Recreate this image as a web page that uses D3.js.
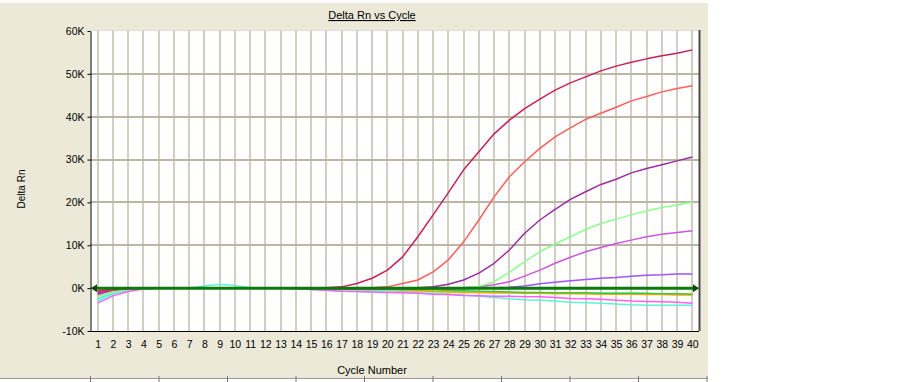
<!DOCTYPE html>
<html><head><meta charset="utf-8">
<script src="https://cdn.jsdelivr.net/npm/d3@7/dist/d3.min.js"></script>
<style>
html,body{margin:0;padding:0;background:#fff;}
svg{display:block;font-family:"Liberation Sans",Arial,sans-serif;}
</style></head>
<body>
<svg id="chart" width="902" height="382"></svg>
<script>
// ---- data (Delta Rn, in units) ----
const cycles = [1,2,3,4,5,6,7,8,9,10,11,12,13,14,15,16,17,18,19,20,21,22,23,24,25,26,27,28,29,30,31,32,33,34,35,36,37,38,39,40];
const yTicks = [-10000,0,10000,20000,30000,40000,50000,60000];
const yTickLabels = ["-10K","0K","10K","20K","30K","40K","50K","60K"];
const threshold = 0;

// values in K
const sAqua   = [-3.0,-1.4,-0.5,-0.1,0,0,0,0.5,0.9,0.6,0.1,0,0,-0.2,-0.3,-0.5,-0.7,-0.8,-0.9,-0.9,-1.0,-1.1,-1.2,-1.4,-1.6,-1.9,-2.2,-2.5,-2.7,-2.8,-3.0,-3.3,-3.4,-3.5,-3.7,-3.9,-4.0,-4.0,-4.0,-4.0];
const sPink   = [-3.5,-1.8,-0.8,-0.2,0,0,0,0,0,0,0,0,0,-0.1,-0.3,-0.5,-0.7,-0.8,-0.9,-1.0,-1.1,-1.2,-1.4,-1.5,-1.7,-1.8,-1.9,-1.9,-2.0,-2.0,-2.2,-2.4,-2.5,-2.6,-2.8,-3.0,-3.1,-3.2,-3.3,-3.5];
const sCyan   = [-2.5,-1.1,-0.4,0,0,0,0,0,0,0,0,0,0,0,-0.1,-0.2,-0.3,-0.4,-0.5,-0.6,-0.7,-0.7,-0.8,-0.8,-0.9,-0.9,-1.0,-1.0,-1.1,-1.1,-1.1,-1.2,-1.2,-1.2,-1.2,-1.2,-1.3,-1.3,-1.4,-1.4];
const sYellow = [-1.9,-0.9,-0.3,0,0,0,0,0,0,0,0,0,0,0,0,-0.1,-0.1,-0.2,-0.3,-0.4,-0.5,-0.6,-0.8,-0.9,-1.0,-1.0,-1.1,-1.1,-1.2,-1.2,-1.2,-1.2,-1.3,-1.3,-1.3,-1.3,-1.3,-1.3,-1.3,-1.3];
const sOrange = [-1.6,-0.7,-0.2,0,0,0,0,0,0,0,0,0,0,0,0,-0.2,-0.3,-0.3,-0.3,-0.3,-0.5,-0.6,-0.8,-0.9,-1.0,-1.0,-1.1,-1.1,-1.2,-1.2,-1.3,-1.3,-1.3,-1.4,-1.4,-1.4,-1.5,-1.5,-1.6,-1.6];
const sGreen  = [-1.3,-0.5,-0.1,0,0,0,0,0,0,0,0,0,0,0,0,-0.1,-0.1,-0.1,-0.1,-0.1,-0.2,-0.3,-0.4,-0.5,-0.6,-0.7,-0.8,-0.9,-1.0,-1.0,-1.1,-1.1,-1.1,-1.2,-1.2,-1.2,-1.2,-1.3,-1.3,-1.4];
const sViolet = [-1.0,-0.4,-0.1,0,0,0,0,0,0,0,0,0,0,-0.1,-0.2,-0.2,-0.2,-0.2,-0.2,-0.2,-0.2,-0.1,-0.1,-0.1,-0.1,0,0.1,0.2,0.5,1.0,1.4,1.7,2.0,2.3,2.5,2.8,3.0,3.1,3.3,3.3];
const sOrchid = [-1.5,-0.6,-0.2,0,0,0,0,0,0,0,0,0,0,0,0,0,0,0,0,0,0,0,0,0,0.1,0.3,0.8,1.5,2.8,4.2,5.8,7.2,8.5,9.5,10.4,11.2,12.0,12.6,13.0,13.4];
const sLime   = [-2.0,-0.8,-0.2,0,0,0,0,0,0,0,0,0,0,0,0,0,0,0,0,0,0,0,0,0,0.1,0.4,1.5,3.7,6.2,8.5,10.3,12.0,13.7,15.1,16.1,17.1,18.0,18.8,19.4,20.1];
const sPurple = [-1.2,-0.5,-0.1,0,0,0,0,0,0,0,0,0,0,0,0,0,0,0,0,0,0,0.1,0.3,0.9,1.9,3.5,5.8,8.9,12.8,15.9,18.4,20.7,22.5,24.2,25.4,26.9,27.9,28.8,29.7,30.6];
const sSalmon = [-0.8,-0.4,-0.1,0,0,0,0,0,0,0,0,0,0,0,0,0,0,0,0.1,0.3,1.1,1.9,3.8,6.6,10.8,15.9,21.3,26.0,29.5,32.6,35.3,37.4,39.4,40.8,42.2,43.7,44.7,45.8,46.6,47.2];
const sCrimson= [-0.6,-0.3,-0.1,0,0,0,0,0,0,0,0,0,0,0,0,0.1,0.3,1.1,2.3,4.2,7.3,12.0,17.1,22.3,27.6,31.8,36.0,39.2,41.9,44.1,46.2,47.9,49.3,50.7,51.8,52.7,53.5,54.2,54.8,55.6];

const seriesList = [
  {name:"aqua",   values:sAqua,   color:"#5CF5CF"},
  {name:"pink",   values:sPink,   color:"#FF5CFF"},
  {name:"cyan",   values:sCyan,   color:"#33F0F0"},
  {name:"yellow", values:sYellow, color:"#FFD27A"},
  {name:"orange", values:sOrange, color:"#FFA600"},
  {name:"green",  values:sGreen,  color:"#3CC83C"},
  {name:"violet", values:sViolet, color:"#9A55FF"},
  {name:"orchid", values:sOrchid, color:"#CC55DD"},
  {name:"lime",   values:sLime,   color:"#8CFF8C"},
  {name:"purple", values:sPurple, color:"#9A2D9F"},
  {name:"salmon", values:sSalmon, color:"#FF5C5C"},
  {name:"crimson",values:sCrimson,color:"#C81F5A"}
];

(function(){
const svg = d3.select("#chart");
const beige = "#ECE9D8";

// panel
svg.append("rect").attr("x",0).attr("y",3).attr("width",708).attr("height",375).attr("fill",beige);

const x = d3.scaleLinear().domain([0.5, 40.5]).range([90, 700]);
const y = d3.scaleLinear().domain([-10000, 60000]).range([331, 31]);
const pL = 90, pR = 699, pT = 30, pB = 331;

// plot background
svg.append("rect").attr("x",pL).attr("y",pT).attr("width",pR-pL).attr("height",pB-pT).attr("fill","#fff");
svg.append("line").attr("x1",pL).attr("x2",pR).attr("y1",pT+0.5).attr("y2",pT+0.5).attr("stroke","#ddd").attr("stroke-width",1);

// vertical grid
svg.append("g").selectAll("line").data(cycles).join("line")
  .attr("x1",d=>Math.round(x(d))).attr("x2",d=>Math.round(x(d)))
  .attr("y1",pT).attr("y2",pB)
  .attr("stroke","#D2CEC2").attr("stroke-width",2);
// horizontal grid
svg.append("g").selectAll("line").data(yTicks.filter(v=>v>-10000 && v<60000)).join("line")
  .attr("x1",pL).attr("x2",pR)
  .attr("y1",d=>Math.round(y(d))).attr("y2",d=>Math.round(y(d)))
  .attr("stroke","#BDB6A4").attr("stroke-width",2);

// series
const line = d3.line().x((d,i)=>x(cycles[i])).y(d=>y(d*1000));
svg.append("clipPath").attr("id","clip").append("rect")
  .attr("x",pL).attr("y",pT).attr("width",pR-pL).attr("height",pB-pT);
svg.append("g").attr("clip-path","url(#clip)").selectAll("path").data(seriesList).join("path")
  .attr("d",d=>line(d.values)).attr("fill","none")
  .attr("stroke",d=>d.color).attr("stroke-width",1.5).attr("stroke-linejoin","round");

// threshold line with arrows
const ty = y(threshold);
const x0 = x.range()[0];
svg.append("line").attr("x1",x0+3).attr("x2",pR-3).attr("y1",ty).attr("y2",ty)
  .attr("stroke","#0B7A0B").attr("stroke-width",3);
svg.append("path").attr("d",`M${x0+1},${ty} L${x0+7},${ty-4} L${x0+7},${ty+4} Z`).attr("fill","#0B4A0B");
svg.append("path").attr("d",`M${pR},${ty} L${pR-6},${ty-4} L${pR-6},${ty+4} Z`).attr("fill","#0B4A0B");

// right border
svg.append("line").attr("x1",pR+0.5).attr("x2",pR+0.5).attr("y1",pT).attr("y2",pB)
  .attr("stroke","#4a4a4a").attr("stroke-width",2);

// y axis
const yAxis = svg.append("g").attr("transform",`translate(${pL+0.5},0)`)
  .call(d3.axisLeft(y).tickValues(yTicks).tickFormat((d,i)=>yTickLabels[i]).tickSize(3).tickSizeOuter(0).tickPadding(3));
yAxis.select(".domain").attr("stroke","#000");
yAxis.selectAll("line").attr("stroke","#000");
yAxis.selectAll("text").attr("font-size","10.5px").attr("font-family","'Liberation Sans',Arial,sans-serif").attr("fill","#000");

// x axis
const xAxis = svg.append("g").attr("transform",`translate(0,${pB+0.5})`)
  .call(d3.axisBottom(x).tickValues(cycles).tickFormat(d=>String(d)).tickSize(0).tickSizeOuter(0));
xAxis.select(".domain").attr("stroke","#000").attr("d",`M${pL},0H${pR}`);
xAxis.selectAll("text").attr("y",16).attr("dy","0").attr("font-size","10.5px")
  .attr("font-family","'Liberation Sans',Arial,sans-serif").attr("fill","#000");

// title and labels
svg.append("text").attr("x",372).attr("y",19).attr("text-anchor","middle")
  .attr("font-size","11px").attr("text-decoration","underline").attr("fill","#000").text("Delta Rn vs Cycle");
svg.append("text").attr("transform","translate(25,189) rotate(-90)").attr("text-anchor","middle")
  .attr("font-size","10px").attr("fill","#000").text("Delta Rn");
svg.append("text").attr("x",372).attr("y",374).attr("text-anchor","middle")
  .attr("font-size","11px").attr("fill","#000").text("Cycle Number");

// bottom ruler
svg.append("line").attr("x1",0).attr("x2",708).attr("y1",378.5).attr("y2",378.5).attr("stroke","#9a9a9a");
svg.append("g").selectAll("line").data(d3.range(0,10)).join("line")
  .attr("x1",d=>90.5+d*68.5).attr("x2",d=>90.5+d*68.5).attr("y1",376).attr("y2",382).attr("stroke","#777");
})();
</script>
</body></html>
